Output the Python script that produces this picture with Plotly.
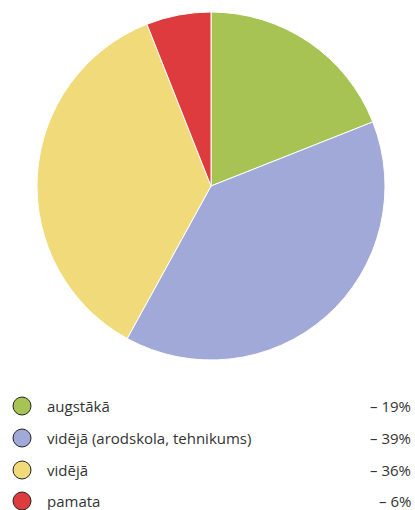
import plotly.graph_objects as go

labels = ["augstākā", "vidējā (arodskola, tehnikums)", "vidējā", "pamata"]
values = [19, 39, 36, 6]
pct_labels = ["– 19%", "– 39%", "– 36%", "– 6%"]
colors = ["#A6C353", "#A0A9D8", "#F0DA7A", "#DE3B3F"]

W, H = 415, 510
cx, cy, r = 211, 186, 174

fig = go.Figure()
fig.add_trace(go.Pie(
    labels=labels, values=values, sort=False, direction="clockwise", rotation=0,
    marker=dict(colors=colors, line=dict(color="white", width=1)),
    textinfo="none", hoverinfo="label+percent", showlegend=False,
    domain=dict(x=[(cx - r) / W, (cx + r) / W],
                y=[1 - (cy + r) / H, 1 - (cy - r) / H]),
))

row_y = [406, 438, 470, 501]
fig.add_trace(go.Scatter(
    x=[22] * len(labels), y=row_y, mode="markers",
    marker=dict(size=18, color=colors, line=dict(color="#222", width=1)),
    showlegend=False, hoverinfo="skip", cliponaxis=False,
))

font = dict(family="Open Sans, Noto Sans, sans-serif", size=15, color="#333333")
for lab, pct, y in zip(labels, pct_labels, row_y):
    fig.add_annotation(x=45, y=y, text=lab, showarrow=False, xanchor="left", yanchor="middle", font=font)
    fig.add_annotation(x=413, y=y, text=pct, showarrow=False, xanchor="right", yanchor="middle", font=font)

fig.update_layout(
    width=W, height=H, margin=dict(l=0, r=0, t=0, b=0),
    paper_bgcolor="white", plot_bgcolor="white",
    xaxis=dict(range=[0, W], visible=False, fixedrange=True),
    yaxis=dict(range=[H, 0], visible=False, fixedrange=True),
)
fig.write_html(
    "out.html",
    config={"displayModeBar": False},
    post_script="document.body.style.margin='0';document.body.style.overflow='hidden';",
)
